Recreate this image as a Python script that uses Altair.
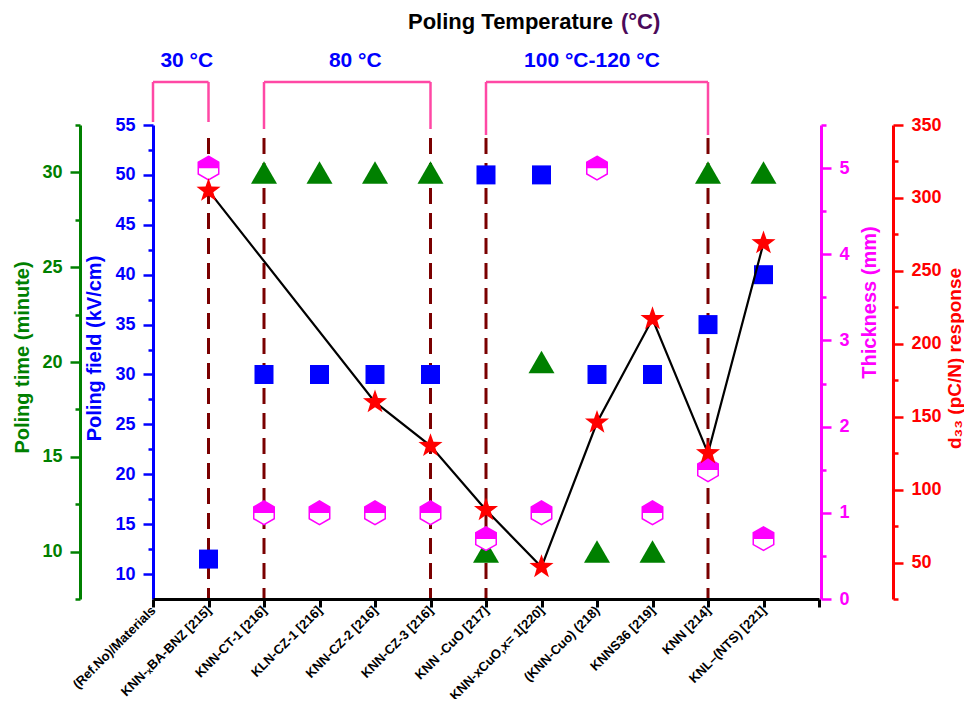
import json
import altair as alt
import pandas as pd

FONT = "Liberation Sans"

# ---------------- data ----------------
origin_label = "(Ref.No)/Materials"
materials = ["KNN-\u2093BA-BNZ [215]", "KNN-CT-1 [216]", "KLN-CZ-1 [216]", "KNN-CZ-2 [216]",
             "KNN-CZ-3 [216]", "KNN -CuO [217]", "KNN-xCuO,x= 1[220]", "(KNN-Cuo) (218)",
             "KNNS36  [219]", "KNN [214]", "KNL\u2013(NTS) [221]"]
poling_field = [11.5, 30, 30, 30, 30, 50, 50, 30, 30, 35, 40]          # kV/cm
poling_time = [None, 30, 30, 30, 30, 10, 20, 10, 10, 30, 30]          # minute
thickness = [5, 1, 1, 1, 1, 0.7, 1, 5, 1, 1.5, 0.7]                   # mm
d33 = [305, None, None, 160, 130, 86, 47, 146, 217, 125, 269]         # pC/N

temp_labels = ["30 \u00b0C", "80 \u00b0C", "100 \u00b0C-120 \u00b0C"]
temp_start = [0, 2, 6]
temp_end = [1, 5, 10]
boundaries = [1, 2, 5, 6, 10]

field_major = [10, 15, 20, 25, 30, 35, 40, 45, 50, 55]
field_minor = [12.5, 17.5, 22.5, 27.5, 32.5, 37.5, 42.5, 47.5, 52.5]
time_major = [10, 15, 20, 25, 30]
time_minor = [7.5, 12.5, 17.5, 22.5, 27.5, 32.5]
thick_major = [0, 1, 2, 3, 4, 5]
thick_minor = [0.5, 1.5, 2.5, 3.5, 4.5, 5.5]
d33_major = [50, 100, 150, 200, 250, 300, 350]
d33_minor = [25, 75, 125, 175, 225, 275, 325]

# ---------------- tables ----------------
idx = list(range(1, len(materials) + 1))
df = pd.DataFrame({"idx": idx, "material": materials, "field": poling_field,
                   "time": poling_time, "thick": thickness, "d33": d33})
df_field = df.dropna(subset=["field"])
df_time = df.dropna(subset=["time"])
df_thick = df.dropna(subset=["thick"])
df_d33 = df.dropna(subset=["d33"])
df_bound = pd.DataFrame({"idx": boundaries})

BLUE, GREEN, MAG, RED = "#0000FF", "#008000", "#FF00FF", "#FF0000"
PINK, MAROON = "#FF48A5", "#7A0000"

HEX = "M0,-1L0.866,-0.5L0.866,0.5L0,1L-0.866,0.5L-0.866,-0.5Z"
HEX_TOP = "M0,-1L0.866,-0.5L0.866,0.02L-0.866,0.02L-0.866,-0.5Z"
STAR = ("M0,-1L0.235,-0.324L0.951,-0.309L0.380,0.124L0.588,0.809L0,0.4"
        "L-0.588,0.809L-0.380,0.124L-0.951,-0.309L-0.235,-0.324Z")

xscale = alt.Scale(domain=[0, 12], nice=False, zero=False)
xlabels = [origin_label] + materials + [""]
xaxis = alt.Axis(values=list(range(13)), labelExpr=json.dumps(xlabels) + "[datum.value]",
                 labelAngle=315, labelAlign="right", labelBaseline="middle",
                 labelFont=FONT, labelFontSize=13, labelFontWeight="bold", labelColor="black",
                 labelPadding=1, labelOverlap=False, labelFlush=False, labelBound=False,
                 labelLimit=400,
                 tickSize=8, tickWidth=3, tickColor="black", domainColor="black",
                 domainWidth=3, grid=False, title=None, zindex=1)


def X(field):
    return alt.X(f"{field}:Q", scale=xscale, axis=xaxis)


def yaxis(color, orient, offset, values, major=True, title=None, titleY=None, pad=10, tsize=20):
    kw = dict(orient=orient, offset=offset, values=values, grid=False,
              tickColor=color, tickWidth=2.5, tickSize=10 if major else 5,
              labelOverlap=False, labelFlush=False, labelBound=False)
    if major:
        kw.update(domain=True, domainColor=color, domainWidth=3, labels=True,
                  labelColor=color, labelFont=FONT, labelFontSize=18,
                  labelFontWeight="bold", labelPadding=8,
                  title=title, titleColor=color, titleFont=FONT, titleFontSize=tsize,
                  titleFontWeight="bold", titlePadding=pad)
        if titleY is not None:
            kw["titleY"] = titleY
        if orient == "right":
            kw.update(titleAngle=270, titleBaseline="top")
    else:
        kw.update(domain=False, labels=False, title=None)
    return alt.Axis(**kw)


s_field = alt.Scale(domain=[7.5, 55], nice=False, zero=False)
s_time = alt.Scale(domain=[7.5, 32.5], nice=False, zero=False)
s_thick = alt.Scale(domain=[0, 5.5], nice=False, zero=False)
s_d33 = alt.Scale(domain=[25, 350], nice=False, zero=False)

layers = []

# dashed separators
layers.append(alt.Chart(df_bound).mark_rule(color=MAROON, strokeWidth=3, strokeDash=[16, 9]).encode(
    x=X("idx"), y=alt.value(13), y2=alt.value(474)))

# green triangles: poling time
layers.append(alt.Chart(df_time).mark_point(shape="triangle-up", filled=True, size=676,
                                            color=GREEN, opacity=1).encode(
    x=X("idx"), y=alt.Y("time:Q", scale=s_time,
                        axis=yaxis(GREEN, "left", 73, time_major, True, "Poling time (minute)", 232, 9))))
layers.append(alt.Chart(df_time).mark_point(opacity=0, size=0).encode(
    x=X("idx"), y=alt.Y("time:Q", scale=s_time, axis=yaxis(GREEN, "left", 73, time_minor, False))))

# blue squares: poling field
layers.append(alt.Chart(df_field).mark_square(size=361, color=BLUE, opacity=1).encode(
    x=X("idx"), y=alt.Y("field:Q", scale=s_field,
                        axis=yaxis(BLUE, "left", 0, field_major, True, "Poling field (kV/cm)", 223, 10))))
layers.append(alt.Chart(df_field).mark_point(opacity=0, size=0).encode(
    x=X("idx"), y=alt.Y("field:Q", scale=s_field, axis=yaxis(BLUE, "left", 0, field_minor, False))))

# magenta hexagons: thickness
layers.append(alt.Chart(df_thick).mark_point(shape=HEX, filled=True, fill="white", stroke=MAG,
                                             strokeWidth=1.5, size=560, opacity=1).encode(
    x=X("idx"), y=alt.Y("thick:Q", scale=s_thick,
                        axis=yaxis(MAG, "right", 2, thick_major, True, "Thickness (mm)", 177, 10))))
layers.append(alt.Chart(df_thick).mark_point(shape=HEX_TOP, filled=True, color=MAG, size=560,
                                             opacity=1).encode(
    x=X("idx"), y=alt.Y("thick:Q", scale=s_thick, axis=yaxis(MAG, "right", 2, thick_minor, False))))

# d33 line + stars
layers.append(alt.Chart(df_d33).mark_line(color="black", strokeWidth=2.2).encode(
    x=X("idx"), y=alt.Y("d33:Q", scale=s_d33, axis=None)))
layers.append(alt.Chart(df_d33).mark_point(shape=STAR, filled=True, color=RED, size=640,
                                           opacity=1).encode(
    x=X("idx"), y=alt.Y("d33:Q", scale=s_d33,
                        axis=yaxis(RED, "right", 74, d33_major, True,
                                   "d\u2083\u2083 (pC/N) response", 233, 4, 19))))
layers.append(alt.Chart(df_d33).mark_point(opacity=0, size=0).encode(
    x=X("idx"), y=alt.Y("d33:Q", scale=s_d33, axis=yaxis(RED, "right", 74, d33_minor, False))))

# temperature brackets
bottoms = [-3, 4, 10]
dxs = [6, 8, -5]
for lab, a, b, yb, dx in zip(temp_labels, temp_start, temp_end, bottoms, dxs):
    d1 = pd.DataFrame({"a": [a], "b": [b], "mid": [(a + b) / 2], "label": [lab]})
    d2 = pd.DataFrame({"pos": [a, b]})
    layers.append(alt.Chart(d1).mark_rule(color=PINK, strokeWidth=2.5).encode(
        x=X("a"), x2="b:Q", y=alt.value(-43)))
    layers.append(alt.Chart(d2).mark_rule(color=PINK, strokeWidth=2.5).encode(
        x=X("pos"), y=alt.value(-43), y2=alt.value(yb)))
    layers.append(alt.Chart(d1).mark_text(font=FONT, fontSize=21, fontWeight="bold", color=BLUE,
                                          align="center", baseline="alphabetic", dx=dx).encode(
        x=X("mid"), y=alt.value(-58), text="label:N"))

# title
layers.append(alt.Chart(pd.DataFrame({"t": ["Poling Temperature"]})).mark_text(
    font=FONT, fontSize=22, fontWeight="bold", color="black", align="left",
    baseline="alphabetic").encode(x=alt.value(255), y=alt.value(-96), text="t:N"))
layers.append(alt.Chart(pd.DataFrame({"t": ["(\u00b0C)"]})).mark_text(
    font=FONT, fontSize=22, fontWeight="bold", color="#4B0A5A", align="left",
    baseline="alphabetic").encode(x=alt.value(468), y=alt.value(-96), text="t:N"))

chart = alt.layer(*layers).resolve_scale(y="independent").resolve_axis(y="independent").properties(
    width=666, height=474,
    padding={"left": 145, "top": 117, "right": 145, "bottom": 100},
    autosize=alt.AutoSizeParams(type="none"),
    background="white",
).configure_view(stroke=None)

chart.save("out.html", embed_options={"renderer": "svg", "actions": False})
